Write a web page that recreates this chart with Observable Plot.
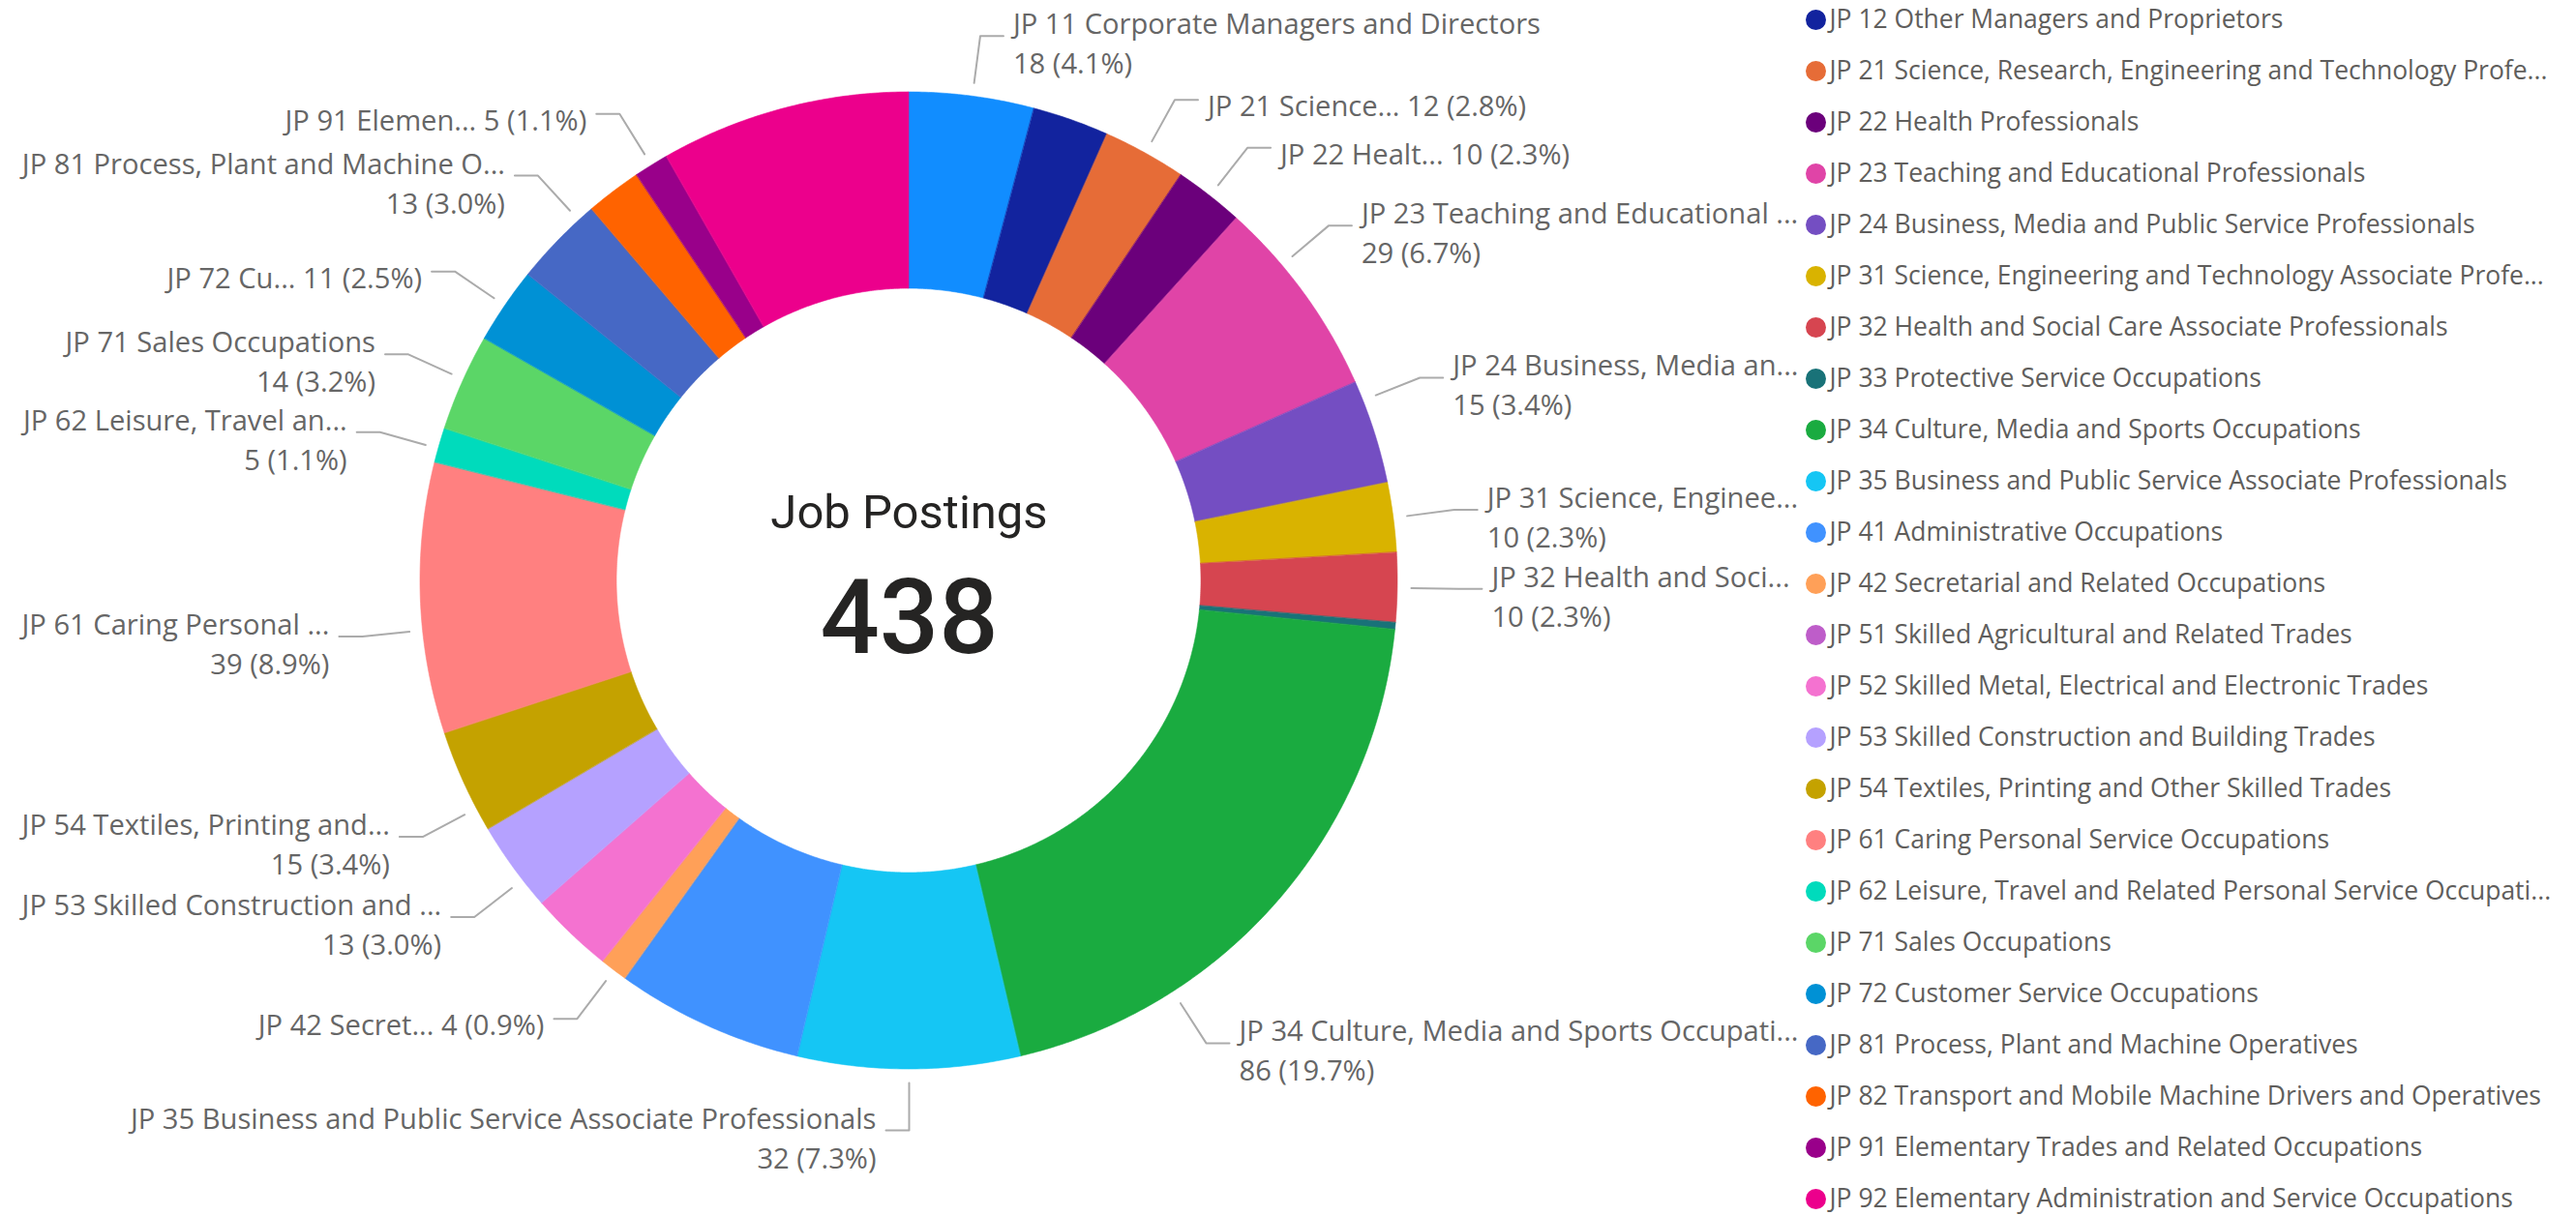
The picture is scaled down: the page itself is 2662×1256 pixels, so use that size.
<!DOCTYPE html>
<html>
<head>
<meta charset="utf-8">
<script src="https://cdn.jsdelivr.net/npm/d3@7"></script>
<script src="https://cdn.jsdelivr.net/npm/@observablehq/plot@0.6"></script>
<style>
  html, body { margin: 0; padding: 0; background: #fff; overflow: hidden; }
  #wrap { display: flex; flex-direction: row; width: 2662px; height: 1256px; }
  #wrap svg { display: block; }
</style>
</head>
<body>
<div id="wrap"></div>
<script>
// ---------------- DATA ----------------
const categories = [
  "JP 11 Corporate Managers and Directors",
  "JP 12 Other Managers and Proprietors",
  "JP 21 Science, Research, Engineering and Technology Professionals",
  "JP 22 Health Professionals",
  "JP 23 Teaching and Educational Professionals",
  "JP 24 Business, Media and Public Service Professionals",
  "JP 31 Science, Engineering and Technology Associate Professionals",
  "JP 32 Health and Social Care Associate Professionals",
  "JP 33 Protective Service Occupations",
  "JP 34 Culture, Media and Sports Occupations",
  "JP 35 Business and Public Service Associate Professionals",
  "JP 41 Administrative Occupations",
  "JP 42 Secretarial and Related Occupations",
  "JP 51 Skilled Agricultural and Related Trades",
  "JP 52 Skilled Metal, Electrical and Electronic Trades",
  "JP 53 Skilled Construction and Building Trades",
  "JP 54 Textiles, Printing and Other Skilled Trades",
  "JP 61 Caring Personal Service Occupations",
  "JP 62 Leisure, Travel and Related Personal Service Occupations",
  "JP 71 Sales Occupations",
  "JP 72 Customer Service Occupations",
  "JP 81 Process, Plant and Machine Operatives",
  "JP 82 Transport and Mobile Machine Drivers and Operatives",
  "JP 91 Elementary Trades and Related Occupations",
  "JP 92 Elementary Administration and Service Occupations"
];
const values = [18, 11, 12, 10, 29, 15, 10, 10, 1, 86, 32, 27, 4, 0, 12, 13, 15, 39, 5, 14, 11, 13, 8, 5, 36];
const colors = [
  "#118DFF", "#12239E", "#E66C37", "#6B007B", "#E044A7", "#744EC2", "#D9B300", "#D64550",
  "#197278", "#1AAB40", "#15C6F4", "#4092FF", "#FFA058", "#BE5DC9", "#F472D0", "#B5A1FF",
  "#C4A200", "#FF8080", "#00DBBC", "#5BD667", "#0091D5", "#4668C5", "#FF6300", "#99008A", "#EC008C"
];
// data-label category text as displayed (null = no label shown)
const labelNames = [
  "JP 11 Corporate Managers and Directors", null, "JP 21 Science...", "JP 22 Healt...",
  "JP 23 Teaching and Educational ...", "JP 24 Business, Media an...", "JP 31 Science, Enginee...",
  "JP 32 Health and Soci...", null, "JP 34 Culture, Media and Sports Occupati...",
  "JP 35 Business and Public Service Associate Professionals", null, "JP 42 Secret...", null, null,
  "JP 53 Skilled Construction and ...", "JP 54 Textiles, Printing and...", "JP 61 Caring Personal ...",
  "JP 62 Leisure, Travel an...", "JP 71 Sales Occupations", "JP 72 Cu...",
  "JP 81 Process, Plant and Machine O...", null, "JP 91 Elemen...", null
];
// number of text lines of each data label (1 = name and value on one line)
const labelLines = [2, 0, 1, 1, 2, 2, 2, 2, 0, 2, 2, 0, 1, 0, 0, 2, 2, 2, 2, 2, 1, 2, 0, 1, 0];
const cardTitle = "Job Postings";
const cardValue = 438;
const legendCategories = categories.slice(1); // legend is scrolled: first visible entry is JP 12

// ---------------- LAYOUT ----------------
const W1 = 1866, W2 = 796, H = 1256;
const cx = 939, cy = 600, R = 505, r0 = 302;
const rLeadStart = 519, rElbow = 568, hLen = 24, textGap = 10;
const rightLimit = 1858, leftMargin = 22, minGap = 10;
const labelFamily = "'Segoe UI', 'Open Sans', sans-serif";
const cardFamily = "Roboto, 'DejaVu Sans', sans-serif";

const ctx = document.createElement("canvas").getContext("2d");
function tw(s, size, fam) { ctx.font = `${size}px ${fam}`; return ctx.measureText(s).width; }
function calib(refs, base, fam) {
  const want = d3.sum(refs, d => d[1]);
  const got = d3.sum(refs, d => tw(d[0], base, fam));
  return base * want / got;
}
const labelFont = calib([
  ["JP 35 Business and Public Service Associate Professionals", 768],
  ["JP 11 Corporate Managers and Directors", 546],
  ["JP 71 Sales Occupations", 323]
], 30, labelFamily);
const legendFont = calib([
  ["JP 12 Other Managers and Proprietors", 470],
  ["JP 35 Business and Public Service Associate Professionals", 700]
], 28, labelFamily);

const total = d3.sum(values);
const degPer = 360 / total;
let acc = 0;
const slices = categories.map((c, i) => {
  const s = acc * degPer; acc += values[i]; const e = acc * degPer;
  return {c, i, v: values[i], s, e, mid: (s + e) / 2};
});
const rad = a => a * Math.PI / 180;
const pX = (a, r) => cx + r * Math.sin(rad(a));
const pY = (a, r) => cy - r * Math.cos(rad(a));
const uX = x => (x - cx) / R;
const uY = y => (cy - y) / R;

// ---------------- LABEL PLACEMENT ----------------
const labels = slices.filter(d => labelLines[d.i] > 0 && d.v > 0).map(d => {
  const valueText = `${d.v} (${(d.v / total * 100).toFixed(1)}%)`;
  const lines = labelLines[d.i] === 2 ? [labelNames[d.i], valueText] : [labelNames[d.i] + " " + valueText];
  const w = d3.max(lines, s => tw(s, labelFont, labelFamily));
  const m = Math.min(0.6, (d.e - d.s) / 4);
  return {...d, lines, w, lo: d.s + m, hi: d.e - m, a: d.mid};
});
function geom(L, a) {
  const right = a < 180;
  const ex = pX(a, rElbow), ey = pY(a, rElbow);
  const hx = right ? ex + hLen : ex - hLen;
  const tx = right ? hx + textGap : hx - textGap;
  const x0 = right ? ex : tx - L.w, x1 = right ? tx + L.w : ex;
  const [t, b] = L.lines.length === 2 ? [-24, 46] : [-5, 24];
  return {right, ex, ey, hx, tx, x0, x1, y0: ey + t, y1: ey + b};
}
function fits(L, a) {
  const g = geom(L, a);
  const tx0 = g.right ? g.tx : g.tx - L.w, tx1 = g.right ? g.tx + L.w : g.tx;
  return tx0 >= leftMargin && tx1 <= rightLimit && g.y0 >= 0 && g.y1 <= H;
}
const step = 0.05;
for (const L of labels) {
  let best = L.mid;
  if (!fits(L, L.mid)) {
    for (let d = step; d <= 360; d += step) {
      const up = L.mid + d, dn = L.mid - d;
      if (dn >= L.lo && fits(L, dn)) { best = dn; break; }
      if (up <= L.hi && fits(L, up)) { best = up; break; }
      if (dn < L.lo && up > L.hi) break;
    }
  }
  L.a = best;
  let flo = best, fhi = best;
  while (flo - step >= L.lo && fits(L, flo - step)) flo -= step;
  while (fhi + step <= L.hi && fits(L, fhi + step)) fhi += step;
  L.flo = flo; L.fhi = fhi;
}
const clamp = (v, a, b) => Math.max(a, Math.min(b, v));
for (let iter = 0; iter < 4000; iter++) {
  let moved = false;
  for (let i = 0; i < labels.length; i++) for (let j = i + 1; j < labels.length; j++) {
    const A = geom(labels[i], labels[i].a), B = geom(labels[j], labels[j].a);
    if (A.right !== B.right) continue;
    if (A.x1 < B.x0 || B.x1 < A.x0) continue;
    const [U, D, gu, gd] = A.ey <= B.ey ? [labels[i], labels[j], A, B] : [labels[j], labels[i], B, A];
    if (gd.y0 - gu.y1 >= minGap) continue;
    const upDir = gu.right ? -1 : 1;
    const nu = clamp(U.a + upDir * step, U.flo, U.fhi);
    const nd = clamp(D.a - upDir * step, D.flo, D.fhi);
    if (nu !== U.a || nd !== D.a) moved = true;
    U.a = nu; D.a = nd;
  }
  if (!moved) break;
}

// ---------------- MARK DATA ----------------
const arcPts = slices.filter(d => d.v > 0).flatMap(d => {
  const n = Math.max(2, Math.ceil((d.e - d.s) / 0.4) + 1);
  return d3.range(n).map(k => {
    const a = rad(d.s + (d.e - d.s) * k / (n - 1));
    return {key: d.c, x1: Math.sin(a), y1: Math.cos(a), x2: Math.sin(a) * r0 / R, y2: Math.cos(a) * r0 / R};
  });
});
const leaderPts = labels.flatMap(L => {
  const g = geom(L, L.a);
  return [[pX(L.a, rLeadStart), pY(L.a, rLeadStart)], [g.ex, g.ey], [g.hx, g.ey]]
    .map(([x, y]) => ({key: L.c, x: uX(x), y: uY(y)}));
});
const textRows = labels.flatMap(L => {
  const g = geom(L, L.a);
  const base = L.lines.length === 2 ? [g.ey - 2, g.ey + 39] : [g.ey + 17];
  return L.lines.map((t, k) => ({text: t, right: g.right, x: uX(g.tx), y: uY(base[k])}));
});

const textOpts = {x: "x", y: "y", text: "text", lineAnchor: "bottom", fontSize: labelFont, fontFamily: labelFamily, fill: "#666666"};

const chart = Plot.plot({
  width: W1, height: H, margin: 0,
  x: {domain: [-1, 1], range: [cx - R, cx + R], axis: null},
  y: {domain: [-1, 1], range: [cy + R, cy - R], axis: null},
  color: {domain: categories, range: colors},
  style: {background: "#fff"},
  marks: [
    Plot.area(arcPts, {x1: "x1", y1: "y1", x2: "x2", y2: "y2", z: "key", fill: "key", stroke: "key", strokeWidth: 0.6, curve: "linear"}),
    Plot.line(leaderPts, {x: "x", y: "y", z: "key", stroke: "#ABABAB", strokeWidth: 2}),
    Plot.text(textRows.filter(d => d.right), {...textOpts, textAnchor: "start"}),
    Plot.text(textRows.filter(d => !d.right), {...textOpts, textAnchor: "end"}),
    Plot.text([cardTitle], {x: 0, y: uY(545), text: d => d, lineAnchor: "bottom", fontSize: 49, fontWeight: 400, fontFamily: cardFamily, fill: "#252423"}),
    Plot.text([cardValue], {x: 0, y: uY(674), text: d => String(d), lineAnchor: "bottom", fontSize: 108, fontWeight: 500, fontFamily: cardFamily, fill: "#252423"})
  ]
});

// ---------------- LEGEND ----------------
const legendTextW = 750;
function truncate(s) {
  if (tw(s, legendFont, labelFamily) <= legendTextW) return s;
  let t = s;
  while (t.length && tw(t + "...", legendFont, labelFamily) > legendTextW) t = t.slice(0, -1);
  return t.trimEnd() + "...";
}
const legend = Plot.plot({
  width: W2, height: H, margin: 0,
  x: {domain: [0, W2], range: [0, W2], axis: null},
  y: {type: "point", domain: legendCategories, range: [18.5, 1240.5], padding: 0, axis: null},
  color: {domain: categories, range: colors},
  style: {background: "#fff"},
  marks: [
    Plot.dot(legendCategories, {x: 10, y: d => d, r: 10.5, fill: d => d}),
    Plot.text(legendCategories, {x: 24, y: d => d, text: d => truncate(d), textAnchor: "start", lineAnchor: "middle",
      fontSize: legendFont, fontFamily: labelFamily, fill: "#605E5C"})
  ]
});

const wrap = document.getElementById("wrap");
wrap.appendChild(chart);
wrap.appendChild(legend);
</script>
</body>
</html>
